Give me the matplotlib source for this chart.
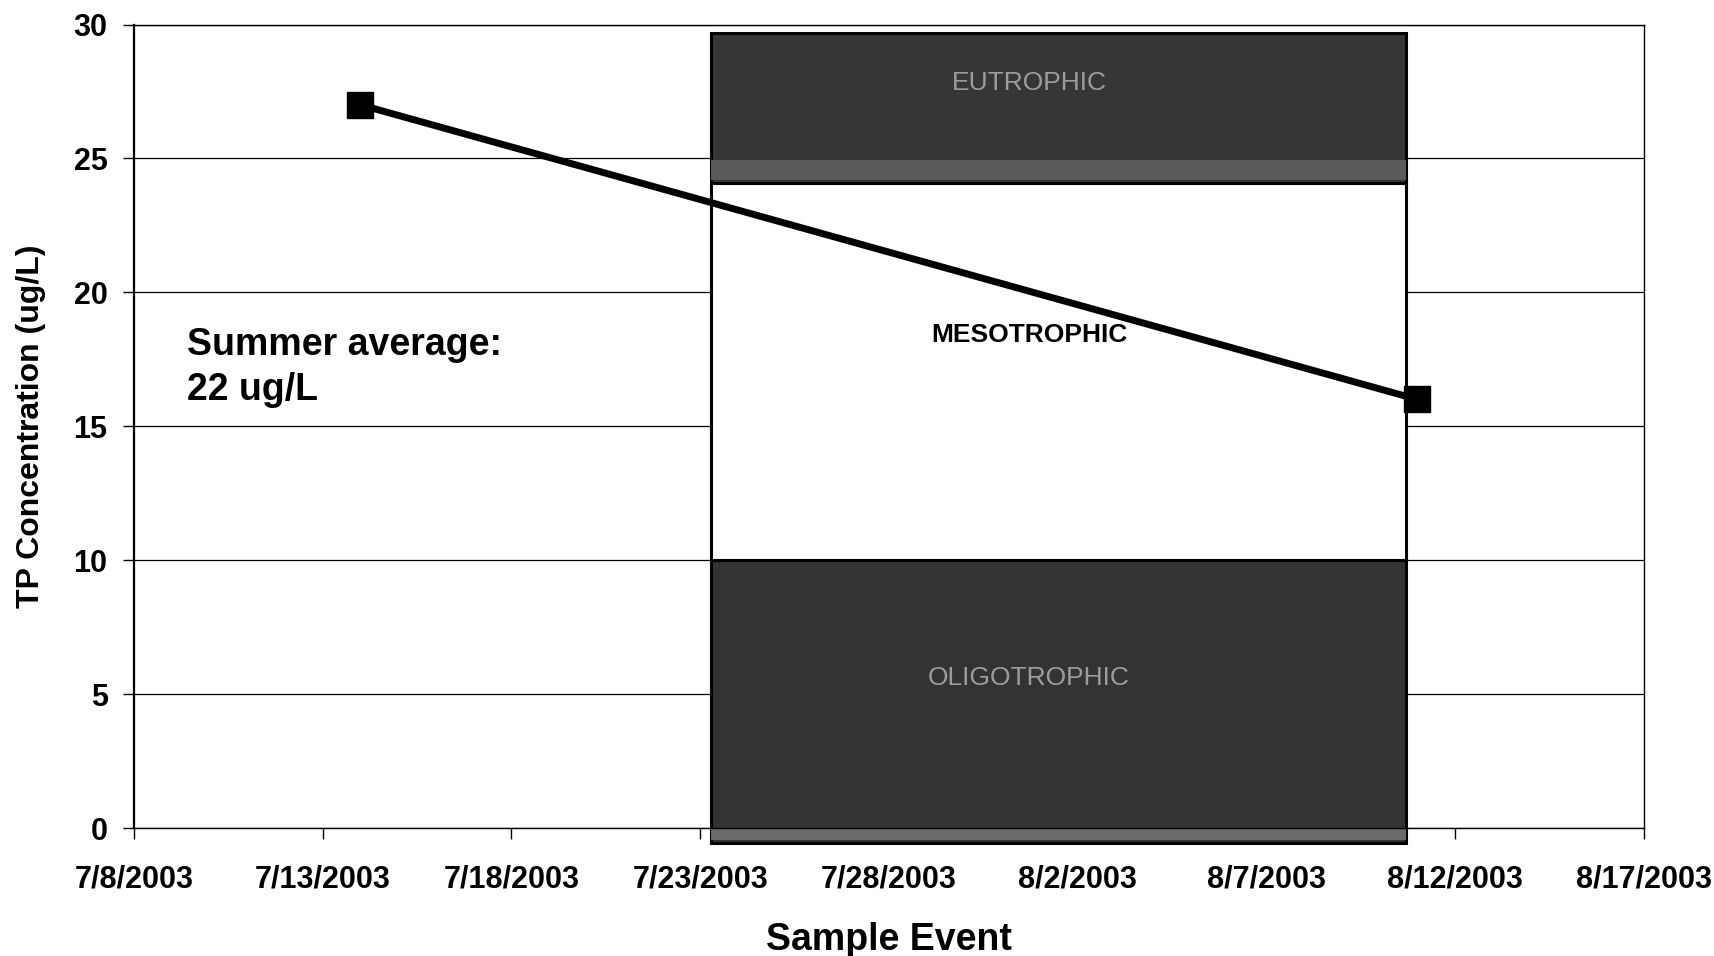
import matplotlib
matplotlib.use("Agg")
import matplotlib.pyplot as plt
import matplotlib.dates as mdates
from datetime import datetime

# ---- data ----
sample_dates = ["2003-07-14", "2003-08-11"]
tp_values = [27, 16]

tick_dates = ["2003-07-08", "2003-07-13", "2003-07-18", "2003-07-23", "2003-07-28",
              "2003-08-02", "2003-08-07", "2003-08-12", "2003-08-17"]
tick_labels = ["7/8/2003", "7/13/2003", "7/18/2003", "7/23/2003", "7/28/2003",
               "8/2/2003", "8/7/2003", "8/12/2003", "8/17/2003"]
y_ticks = [0, 5, 10, 15, 20, 25, 30]

zone_names = ["OLIGOTROPHIC", "MESOTROPHIC", "EUTROPHIC"]
zone_bottoms = [-0.55, 10.0, 24.1]
zone_tops = [10.0, 24.1, 29.7]
zone_start = "2003-07-23 07:00"
zone_end = "2003-08-10 17:00"
zone_label_y = [5.6, 18.4, 27.8]
zone_label_x = "2003-07-31 17:00"

note_text = "Summer average:\n22 ug/L"
note_x = "2003-07-09 10:00"
note_y = 17.2


def num(s):
    fmt = "%Y-%m-%d %H:%M" if " " in s else "%Y-%m-%d"
    return mdates.date2num(datetime.strptime(s, fmt))


plt.rcParams['font.family'] = ['Liberation Sans', 'DejaVu Sans']

fig = plt.figure(figsize=(17.14, 9.56), dpi=100)
ax = fig.add_axes([134 / 1714, 1 - 828 / 956, 1510 / 1714, (828 - 24.5) / 956])

# trophic zone box
x0, x1 = num(zone_start), num(zone_end)
zone_colors = ["#333333", "white", "#363636"]
text_colors = ["#9c9c9c", "black", "#9c9c9c"]
text_weights = ["normal", "bold", "normal"]
for i, name in enumerate(zone_names):
    ax.bar(x0, zone_tops[i] - zone_bottoms[i], bottom=zone_bottoms[i], width=x1 - x0,
           align="edge", color=zone_colors[i], edgecolor="black", linewidth=2.2,
           zorder=2, clip_on=False)
    ax.text(num(zone_label_x), zone_label_y[i], name, ha="center", va="center",
            fontsize=19, color=text_colors[i], fontweight=text_weights[i], zorder=3)

# lighter scan stripes inside dark zones
ax.bar(x0, 0.75, bottom=24.2, width=x1 - x0, align="edge", color="#5a5a5a",
       linewidth=0, zorder=2.1)
ax.bar(x0, 0.45, bottom=-0.45, width=x1 - x0, align="edge", color="#6a6a6a",
       linewidth=0, zorder=2.1, clip_on=False)

# data line
xs = [num(d) for d in sample_dates]
ax.plot(xs, tp_values, color="black", linewidth=5, marker="s", markersize=19,
        zorder=5, clip_on=False)

# axes
xt = [num(d) for d in tick_dates]
ax.set_xlim(xt[0], xt[-1])
ax.set_ylim(0, 30)
ax.set_xticks(xt)
ax.set_xticklabels(tick_labels)
ax.set_yticks(y_ticks)
ax.tick_params(axis="x", direction="out", length=8, width=1, pad=18, labelsize=22)
ax.tick_params(axis="y", direction="out", length=8, width=1, pad=11, labelsize=22)
for lab in ax.get_xticklabels() + ax.get_yticklabels():
    lab.set_fontweight("bold")
for lab in ax.get_xticklabels():
    lab.set_clip_on(False)

ax.grid(axis="y", color="black", linewidth=0.9, zorder=1)
ax.set_axisbelow(True)
for s in ax.spines.values():
    s.set_color("black")
    s.set_linewidth(1.0)
ax.spines["left"].set_linewidth(1.6)

ax.set_ylabel("TP Concentration (ug/L)", fontsize=23, fontweight="bold")
ax.yaxis.label.set_va("center")
ax.yaxis.set_label_coords((31 - 134) / 1510, 0.5)
ax.set_xlabel("Sample Event", fontsize=27, fontweight="bold")
ax.xaxis.set_label_coords(0.5, (828 - 940) / 803.5)
ax.xaxis.label.set_va("center")

ax.text(num(note_x), note_y, note_text, ha="left", va="center", fontsize=27,
        fontweight="bold", linespacing=1.32, zorder=6)

fig.savefig("out.png", dpi=100)
